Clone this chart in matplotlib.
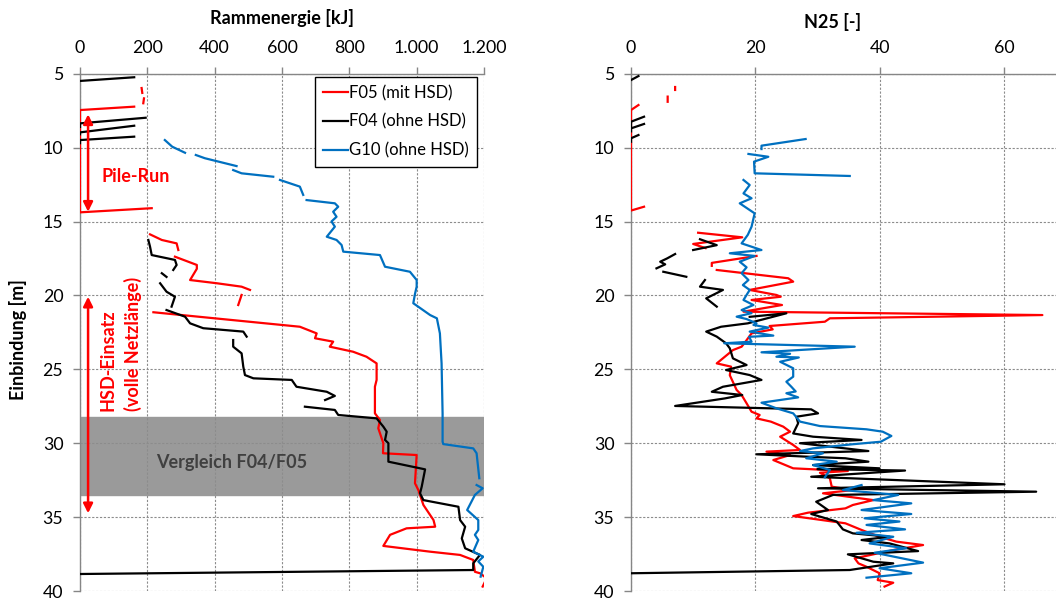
import numpy as np
import matplotlib
matplotlib.use("Agg")
import matplotlib.pyplot as plt

plt.rcParams['font.family'] = ['Lato', 'DejaVu Sans']

N = None
# ---------------- Left panel: Rammenergie [kJ] ----------------
f05_e = [183, 185, N, 190, 188, N,
         161, 0, 0, 213, N,
         208, 243, 287, 292, N,
         282, 347, 347, 327, 407, 480, 505, N,
         480, 470, N,
         218, 653, 703, 698, 752, 742, 811, 851, 881, 881, 876, 876, 891, 886, 901, 900,
         1000, 995, 1005, 1020, 1050, 1055, 970, 921, 901, 1040, 1129, 1168, 1173, 1188, 1208, 1196]
f05_d = [5.97, 6.3, N, 6.67, 7.0, N,
         7.23, 7.46, 14.38, 14.1, N,
         15.87, 16.25, 16.48, 16.93, N,
         17.38, 17.94, 18.2, 18.96, 19.18, 19.41, 19.63, N,
         19.97, 20.65, N,
         21.14, 22.12, 22.57, 22.9, 23.13, 23.47, 23.81, 24.15, 24.6, 25.72, 26.18, 27.98, 28.43, 28.99, 30.0, 30.68,
         30.8, 32.71, 33.17, 34.18, 35.2, 35.65, 35.76, 36.2, 36.95, 37.34, 37.56, 37.9, 38.7, 38.8, 39.14, 39.7]

f04_e = [161, 0, N,
         0, 0, 195, N,
         0, 0, 161, N,
         0, 0, 161, N,
         203, 208, 213, 282, 287, 277, N,
         243, 257, N,
         238, 257, 282, 272, N,
         257, 312, 327, 366, 485, 495, N,
         455, 455, 480, 485, 490, 515, 629, 643, 733, 757, 728, N,
         668, 757, 767, 881, 901, 911, 906, 916, 916, 1025, 1015, 1010, 1020, 1124, 1129, 1144,
         1134, 1144, 1188, 1168, 1168, 0]
f04_d = [5.24, 5.49, N,
         8.6, 8.36, 7.98, N,
         9.1, 8.97, 8.52, N,
         9.7, 9.49, 9.26, N,
         16.25, 16.7, 17.27, 17.6, 17.94, 18.28, N,
         18.5, 18.75, N,
         19.18, 19.75, 20.09, 20.76, N,
         20.99, 21.44, 21.89, 22.22, 22.45, 22.79, N,
         23.02, 23.47, 23.92, 24.82, 25.39, 25.61, 25.72, 26.18, 26.52, 26.8, 27.08, N,
         27.53, 27.75, 28.09, 28.32, 28.88, 29.22, 29.78, 30.0, 31.25, 31.77, 32.94, 33.39, 33.85, 34.3, 35.2, 35.65,
         36.44, 37.11, 37.56, 38.13, 38.58, 38.85]

g10_e = [252, 274, 312, N,
         344, 371, 465, N,
         455, 480, 574, N,
         594, 653, 663, N,
         673, 757, 767, 752, 762, 747, 757, 733, 762, 777, 782, 891, 906, 980, 1000, 1000, 995,
         990, 1040, 1060, 1069, 1074, 1077, 1077, 1079, 1168, 1178, 1186, N,
         1178, 1196, 1173, 1150, 1183, 1183, 1173, 1183, 1168, 1198, 1183, 1198, 1190]
g10_d = [9.49, 9.94, 10.35, N,
         10.5, 10.72, 11.25, N,
         11.52, 11.74, 11.97, N,
         12.19, 12.64, 13.2, N,
         13.55, 13.77, 14.0, 14.34, 14.68, 15.0, 15.35, 16.03, 16.25, 16.59, 17.04, 17.27, 18.06, 18.4, 18.96, 19.41, 19.9,
         20.53, 21.33, 21.55, 22.57, 24.6, 27.98, 29.9, 30.06, 30.35, 30.68, 32.37, N,
         32.83, 33.05, 33.5, 34.52, 35.2, 35.87, 36.2, 36.55, 37.34, 37.68, 38.0, 38.36, 39.03]

# ---------------- Right panel: N25 [-] ----------------
f05_n = [7.1, 7.1, N, 5.9, 5.9, N,
         1.2, 0, 0, 2.1, N,
         10.8, 17.9, 10.0, 12.0, N,
         20.2, 13.0, 13.0, N,
         13.8, 25.3, 26.1, 19.1, 23.4, 24.1, 19.4, 24.3, 18.1, 66.2, 32.0, 31.2, 22.3, 22.8, 19.4, 18.3,
         17.8, 16.4, 13.8, 16.1, 15.9, 17.0, 17.8, 18.6, 19.4, 20.7, 20.2, 22.5, 24.5, 25.6, 24.0, 26.1,
         27.2, 21.8, 25.6, 22.9, 26.1, 34.9, 30.4, 32.0, 32.3, 35.7, 30.9, 39.0, 35.7, 34.5, 28.5, 26.1,
         34.5, 37.1, 40.0, 42.7, 47.0, 42.2, 36.0, 36.6, 37.9, 40.0, 39.7, 42.2, 40.8]
f05_nd = [5.9, 6.1, N, 6.55, 6.9, N,
          7.12, 7.46, 14.26, 14.0, N,
          15.76, 16.07, 16.52, 16.8, N,
          17.33, 17.8, 18.0, N,
          18.28, 18.84, 19.07, 19.63, 19.97, 20.09, 20.31, 20.65, 21.1, 21.33, 21.55, 21.78, 22.07, 22.3, 22.57, 23.2,
          23.47, 23.7, 24.6, 24.82, 25.4, 26.4, 26.74, 27.3, 27.87, 28.09, 28.32, 28.54, 28.88, 29.22, 29.56, 30.12,
          30.46, 30.57, 30.8, 31.14, 31.7, 31.88, 32.0, 32.37, 32.94, 33.17, 33.39, 33.85, 34.18, 34.41, 34.7, 34.93,
          35.42, 35.87, 36.33, 36.66, 36.89, 37.23, 37.79, 38.13, 38.36, 38.8, 39.26, 39.44, 39.7]

f04_n = [0, 1.2, N,
         0, 0, 2.1, N,
         0, 0, 2.1, N,
         0, 0, 1.2, N,
         11.1, 13.8, 10.0, N,
         7.1, 5.8, 4.7, 5.5, 4.1, N,
         5.2, 8.9, N,
         11.9, 11.1, 14.8, 12.1, 13.8, N,
         19.1, 25.0, 18.8, 14.5, 12.1, 13.8, 15.3, 15.9, 16.4, 18.6, 15.3, 19.1, 21.0, 14.8, 13.0, 17.9,
         15.1, 7.1, 29.0, 30.1, 26.6, 26.9, 26.1, 29.3, 37.1, 27.2, 38.2, 20.2, 28.2, 34.5, 38.2, 29.3,
         40.0, 30.0, 44.1, 29.0, 60.1, 30.1, 65.2, 32.5, 29.8, 31.7, 29.0, 33.1, 34.1, 35.7, 41.6, 37.1,
         41.6, 46.2, 34.9, 39.0, 42.2, 35.2, 0]
f04_nd = [5.43, 5.16, N,
          8.6, 8.25, 7.91, N,
          8.9, 8.7, 8.4, N,
          9.6, 9.37, 9.15, N,
          16.2, 16.6, 16.93, N,
          17.2, 17.5, 17.72, 17.9, 18.17, N,
          18.4, 18.74, N,
          18.96, 19.41, 19.63, 20.2, 20.76, N,
          21.45, 21.21, 21.89, 22.12, 22.45, 22.79, 23.24, 23.58, 24.26, 24.71, 25.05, 25.39, 25.72, 26.18, 26.52, 26.74,
          26.97, 27.48, 27.71, 27.98, 28.21, 28.65, 29.34, 29.56, 29.78, 30.0, 30.53, 30.75, 30.91, 31.02, 31.25, 31.48,
          31.7, 31.75, 31.85, 32.27, 32.78, 33.05, 33.28, 33.5, 33.96, 34.52, 34.79, 35.3, 35.83, 36.1, 36.33, 36.55,
          36.78, 37.3, 37.52, 38.02, 38.13, 38.58, 38.8]

g10_n = [28.1, 21.0, 21.0, N,
         18.9, 22.1, 19.8, 19.9, 35.2, N,
         18.1, 19.1, 18.1, 19.4, 17.5, 19.9, 19.4, 18.8, 17.8, 21.0, 15.9, 19.9, 17.5, 18.6, 17.8, 18.9,
         18.0, 19.1, 18.1, 19.7, 17.8, 19.4, 17.0, 18.6, 20.2, 19.7, 22.1, 19.1, 22.9, 19.0, 19.4, 15.0,
         36.0, 21.0, 25.6, 23.4, 27.0, 24.0, 26.1, 26.1, 25.0, 25.8, 26.5, 25.0, 26.9, 21.0, 23.4, 26.1,
         27.2, 30.4, 37.9, 40.5, 41.9, 40.2, 35.7, 29.3, 27.2, 30.9, 28.2, 33.1, 29.3, 32.0, 31.2, N,
         37.1, 34.1, 43.0, 39.0, 45.1, 37.1, 45.1, 37.6, 43.2, 37.9, 44.1, 36.3, 42.2, 38.4, 44.3, 39.2,
         47.0, 40.0, 45.1, 37.9]
g10_nd = [9.42, 9.87, 10.1, N,
          10.43, 10.62, 10.95, 11.74, 11.92, N,
          12.19, 12.53, 13.1, 13.43, 13.77, 14.45, 15.35, 15.9, 16.48, 16.93, 17.15, 17.33, 17.72, 18.1, 18.5, 18.96,
          19.3, 19.63, 20.31, 20.65, 20.99, 21.2, 21.44, 21.6, 21.89, 22.0, 22.18, 22.45, 22.72, 22.8, 23.13, 23.24,
          23.47, 23.85, 23.95, 24.15, 24.2, 24.49, 24.93, 25.5, 25.84, 26.18, 26.5, 26.62, 26.9, 27.26, 27.64, 27.98,
          28.54, 28.84, 29.06, 29.22, 29.51, 29.9, 30.07, 30.35, 30.53, 30.68, 31.02, 31.25, 31.48, 31.81, 32.31, N,
          32.83, 33.17, 33.5, 33.85, 34.07, 34.52, 34.79, 35.08, 35.3, 35.53, 35.83, 36.06, 36.33, 36.78, 37.11, 37.41,
          38.08, 38.46, 38.8, 39.1]

labels = ["F05 (mit HSD)", "F04 (ohne HSD)", "G10 (ohne HSD)"]
colors = ["#FF0000", "#000000", "#0070C0"]
left_xticks = [0, 200, 400, 600, 800, 1000, 1200]
left_xticklabels = ["0", "200", "400", "600", "800", "1.000", "1.200"]
right_xticks = [0, 20, 40, 60]
yticks = [5, 10, 15, 20, 25, 30, 35, 40]
band = (28.2, 33.5)


def arr(v):
    return np.array([np.nan if x is None else x for x in v], dtype=float)


W, H = 1056, 601
fig = plt.figure(figsize=(W / 100, H / 100), dpi=100)
top_px, bot_px = 73.7, 591.0
axL = fig.add_axes([80 / W, 1 - bot_px / H, 404 / W, (bot_px - top_px) / H])
axR = fig.add_axes([631 / W, 1 - bot_px / H, 435 / W, (bot_px - top_px) / H])

grid_c = "#8C8C8C"
spine_c = "#868686"
for ax in (axL, axR):
    ax.set_ylim(40, 5)
    ax.set_yticks(yticks)
    ax.xaxis.tick_top()
    ax.grid(True, color=grid_c, linestyle=(0, (2, 1.5)), linewidth=0.8)
    for s in ("right", "bottom"):
        ax.spines[s].set_visible(False)
    for s in ("left", "top"):
        ax.spines[s].set_color(spine_c)
        ax.spines[s].set_linewidth(1.0)
    ax.tick_params(axis="x", direction="out", length=5, width=1, color=spine_c, pad=8, labelsize=12.8)
    ax.tick_params(axis="y", direction="out", length=5, width=1, color=spine_c, pad=7, labelsize=12.8)

axL.set_xlim(0, 1200)
axL.set_xticks(left_xticks)
axL.set_xticklabels(left_xticklabels)
axR.set_xlim(0, 70)
axR.set_xticks(right_xticks)

lw = 1.6
axL.axhspan(band[0], band[1], color="#9A9A9A", zorder=1)
axL.plot(arr(f05_e), arr(f05_d), color=colors[0], lw=lw, label=labels[0], zorder=3)
axL.plot(arr(f04_e), arr(f04_d), color=colors[1], lw=lw, label=labels[1], zorder=3)
axL.plot(arr(g10_e), arr(g10_d), color=colors[2], lw=lw, label=labels[2], zorder=3)

axR.plot(arr(f05_n), arr(f05_nd), color=colors[0], lw=lw, zorder=3)
axR.plot(arr(f04_n), arr(f04_nd), color=colors[1], lw=lw, zorder=3)
axR.plot(arr(g10_n), arr(g10_nd), color=colors[2], lw=lw, zorder=3)

# annotations
red = "#FF0000"
axL.annotate("", xy=(24, 7.75), xytext=(24, 14.34),
             arrowprops=dict(arrowstyle="<|-|>", color=red, lw=1.8, mutation_scale=14, shrinkA=0, shrinkB=0), zorder=4)
axL.annotate("", xy=(24, 20.09), xytext=(24, 34.74),
             arrowprops=dict(arrowstyle="<|-|>", color=red, lw=1.8, mutation_scale=14, shrinkA=0, shrinkB=0), zorder=4)
axL.text(166, 11.97, "Pile-Run", color=red, fontsize=13, fontweight="bold", ha="center", va="center")
axL.text(121, 27.8, "HSD-Einsatz\n(volle Netzlänge)", color=red, fontsize=13, fontweight="bold",
         rotation=90, ha="center", va="bottom", multialignment="left", linespacing=1.45)
axL.text(451, 31.3, "Vergleich F04/F05", color="#404040", fontsize=13, fontweight="bold",
         ha="center", va="center", zorder=2)

leg = axL.legend(loc="upper right", bbox_to_anchor=(0.983, 0.994), fontsize=12, frameon=True,
                 fancybox=False, edgecolor="black", framealpha=1, handlelength=1.5,
                 handletextpad=0.05, borderpad=0.5, labelspacing=0.75, borderaxespad=0)
leg.get_frame().set_linewidth(1.0)

fig.text(282 / W, 1 - 18.3 / H, "Rammenergie [kJ]", fontsize=13, fontweight="bold", ha="center", va="center")
fig.text(833 / W, 1 - 21.7 / H, "N25 [-]", fontsize=13, fontweight="bold", ha="center", va="center")
fig.text(18 / W, 1 - 340 / H, "Einbindung [m]", fontsize=13, fontweight="bold", ha="center", va="center",
         rotation=90)

fig.savefig("out.png", dpi=100)
